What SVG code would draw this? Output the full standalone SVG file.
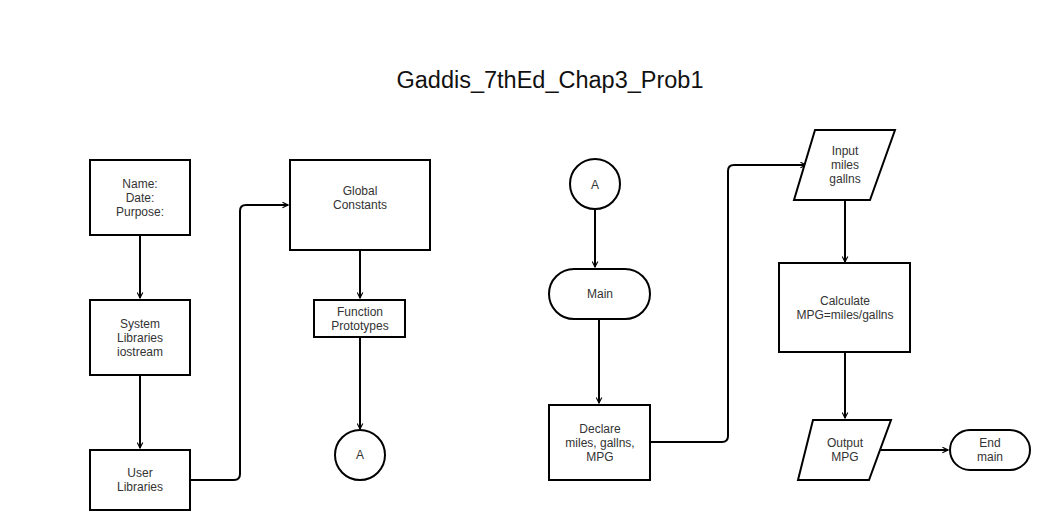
<svg xmlns="http://www.w3.org/2000/svg" width="1056" height="530" viewBox="0 0 1056 530">
<style>
.s{fill:#fff;stroke:#000;stroke-width:2}
.t{font-family:"Liberation Sans",Arial,sans-serif;font-size:12px;fill:#333;text-anchor:middle}
.c{fill:none;stroke:#000;stroke-width:2;marker-end:url(#a)}
</style>
<defs>
<marker id="a" viewBox="0 0 10 10" refX="9" refY="5" markerWidth="7" markerHeight="7" markerUnits="userSpaceOnUse" orient="auto">
<path d="M1,1 L9,5 L1,9" fill="none" stroke="#000" stroke-width="1.6"/>
</marker>
</defs>
<rect width="1056" height="530" fill="#fff"/>
<text x="550" y="88" style="font-family:'Liberation Sans',Arial,sans-serif;font-size:23.5px;fill:#111;text-anchor:middle">Gaddis_7thEd_Chap3_Prob1</text>
<g id="connectors">
<path class="c" d="M140,235 V298"/>
<path class="c" d="M140,375 V448"/>
<path class="c" d="M190,480 H234 Q240,480 240,474 V211 Q240,205 246,205 H288"/>
<path class="c" d="M360,250 V298"/>
<path class="c" d="M360,337 V429"/>
<path class="c" d="M595,209 V267"/>
<path class="c" d="M599,319 V403"/>
<path class="c" d="M650,442 H722 Q728,442 728,436 V171 Q728,165 734,165 H806"/>
<path class="c" d="M845,200 V262"/>
<path class="c" d="M845,352 V418"/>
<path class="c" d="M881,450 H948"/>
</g>
<g id="n1"><rect class="s" x="90" y="160" width="100" height="75"/><text class="t" x="140" y="188">Name:</text><text class="t" x="140" y="202">Date:</text><text class="t" x="140" y="216">Purpose:</text></g>
<g id="n2"><rect class="s" x="90" y="300" width="100" height="75"/><text class="t" x="140" y="328">System</text><text class="t" x="140" y="342">Libraries</text><text class="t" x="140" y="356">iostream</text></g>
<g id="n3"><rect class="s" x="90" y="450" width="100" height="60"/><text class="t" x="140" y="477">User</text><text class="t" x="140" y="491">Libraries</text></g>
<g id="n4"><rect class="s" x="290" y="160" width="140" height="90"/><text class="t" x="360" y="195">Global</text><text class="t" x="360" y="209">Constants</text></g>
<g id="n5"><rect class="s" x="314" y="300" width="91" height="37"/><text class="t" x="360" y="316">Function</text><text class="t" x="360" y="330">Prototypes</text></g>
<g id="n6"><circle class="s" cx="360" cy="455" r="25"/><text class="t" x="360" y="459">A</text></g>
<g id="n7"><circle class="s" cx="595" cy="184" r="25"/><text class="t" x="595" y="189">A</text></g>
<g id="n8"><rect class="s" x="549" y="269" width="101" height="50" rx="25" ry="25"/><text class="t" x="600" y="298">Main</text></g>
<g id="n9"><rect class="s" x="549" y="405" width="101" height="75"/><text class="t" x="600" y="433">Declare</text><text class="t" x="600" y="447">miles, gallns,</text><text class="t" x="600" y="461">MPG</text></g>
<g id="n10"><polygon class="s" points="815,130 895,130 870,200 794,200"/><text class="t" x="845" y="155">Input</text><text class="t" x="845" y="169">miles</text><text class="t" x="845" y="183">gallns</text></g>
<g id="n11"><rect class="s" x="779" y="263" width="131" height="89"/><text class="t" x="845" y="305">Calculate</text><text class="t" x="845" y="319">MPG=miles/gallns</text></g>
<g id="n12"><polygon class="s" points="813,420 891,420 869,480 798,480"/><text class="t" x="845" y="447">Output</text><text class="t" x="845" y="461">MPG</text></g>
<g id="n13"><rect class="s" x="950" y="430" width="80" height="40" rx="20" ry="20"/><text class="t" x="990" y="447">End</text><text class="t" x="990" y="461">main</text></g>
</svg>
